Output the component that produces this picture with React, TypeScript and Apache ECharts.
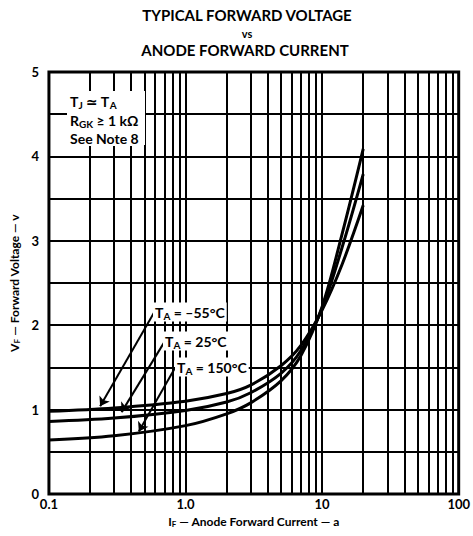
import React, { useEffect, useRef } from "react";
import * as echarts from "echarts";

// Anode forward current (A)
const currents = [0.1, 0.3, 1, 2, 3, 5, 7, 10, 14, 20];
// Forward voltage (V) per junction temperature
const vfM55 = [0.98, 1.02, 1.1, 1.19, 1.29, 1.52, 1.76, 2.18, 2.72, 3.42];
const vf25 = [0.86, 0.9, 0.99, 1.09, 1.2, 1.43, 1.7, 2.2, 2.92, 3.79];
const vf150 = [0.64, 0.69, 0.81, 0.95, 1.08, 1.34, 1.64, 2.22, 3.08, 4.09];

// vertical grid values (log decades 2..9)
const xGrid = [0.2, 0.3, 0.4, 0.5, 0.6, 0.7, 0.8, 0.9, 1, 2, 3, 4, 5, 6, 7, 8, 9, 10, 20, 30, 40, 50, 60, 70, 80, 90];
const xTickValues = [0.1, 1, 10, 100];
const xTickLabels = ["0.1", "1.0", "10", "100"];

// annotation arrows: [startI, startV, tipI, tipV]
const arrowM55 = [0.593, 2.16, 0.237, 1.04];
const arrow25 = [0.712, 1.82, 0.34, 0.97];
const arrow150 = [0.841, 1.5, 0.455, 0.74];

const FONT = "Lato, 'DejaVu Sans', sans-serif";

export default function App() {
  const ref = useRef<HTMLDivElement>(null);
  useEffect(() => {
    if (!ref.current) return;
    const chart = echarts.init(ref.current, undefined, { renderer: "svg" });
    const pairs = (ys: number[]) => currents.map((c, i) => [c, ys[i]]);
    const curve = (name: string, ys: number[]) => ({
      name,
      type: "line",
      data: pairs(ys),
      smooth: 0.35,
      showSymbol: false,
      lineStyle: { color: "#000", width: 3 },
      z: 5,
    });
    const arrow = (a: number[]) => [
      { coord: [a[0], a[1]] },
      { coord: [a[2], a[3]] },
    ];
    const richBase = {
      b: { fontSize: 14, fontWeight: "bold", fontFamily: FONT, color: "#000" },
      s: { fontSize: 10, fontWeight: "bold", fontFamily: FONT, color: "#000", padding: [7, 0, 0, 0] },
    };
    const label = (x: number, y: number, text: string) => ({
      type: "text",
      x,
      y,
      z: 20,
      style: {
        text,
        rich: richBase,
        backgroundColor: "#fff",
        padding: [1, 2, 1, 2],
        verticalAlign: "middle",
      },
    });
    const titleStyle = (text: string, size: number) => ({
      text,
      fontSize: size,
      fontWeight: "bold",
      fontFamily: FONT,
      fill: "#000",
      align: "center",
      verticalAlign: "middle",
    });
    chart.setOption({
      animation: false,
      grid: { left: 44, right: 9, top: 72, bottom: 42, show: true, borderColor: "#000", borderWidth: 3, z: 10 },
      xAxis: {
        type: "log",
        logBase: 10,
        min: 0.1,
        max: 100,
        axisLine: { show: false },
        axisTick: { show: false },
        splitLine: { show: false },
        axisLabel: {
          margin: 3,
          fontSize: 13,
          fontWeight: "bold",
          fontFamily: FONT,
          color: "#000",
          formatter: (v: number) => {
            const i = xTickValues.findIndex((t) => Math.abs(t - v) < v * 1e-6);
            return i >= 0 ? xTickLabels[i] : "";
          },
        },
        name: "{b|I}{s|F}{b| — Anode Forward Current — a}",
        nameLocation: "middle",
        nameGap: 21,
        nameTextStyle: {
          rich: {
            b: { fontSize: 12, fontWeight: "bold", fontFamily: FONT, color: "#000" },
            s: { fontSize: 8, fontWeight: "bold", fontFamily: FONT, color: "#000", padding: [5, 0, 0, 0] },
          },
        },
      },
      yAxis: {
        type: "value",
        min: 0,
        max: 5,
        interval: 0.5,
        axisLine: { show: false },
        axisTick: { show: false },
        splitLine: { show: true, lineStyle: { color: "#000", width: 2 } },
        axisLabel: {
          margin: 10,
          fontSize: 13,
          fontWeight: "bold",
          fontFamily: FONT,
          color: "#000",
          formatter: (v: number) => (Number.isInteger(v) ? String(v) : ""),
        },
        name: "{b|V}{s|F}{b| — Forward Voltage — v}",
        nameLocation: "middle",
        nameGap: 25,
        nameRotate: 90,
        nameTextStyle: {
          rich: {
            b: { fontSize: 12, fontWeight: "bold", fontFamily: FONT, color: "#000" },
            s: { fontSize: 8, fontWeight: "bold", fontFamily: FONT, color: "#000", padding: [5, 0, 0, 0] },
          },
        },
      },
      series: [
        {
          name: "grid",
          type: "line",
          data: [],
          silent: true,
          markLine: {
            silent: true,
            symbol: "none",
            label: { show: false },
            lineStyle: { color: "#000", width: 2, type: "solid" },
            data: xGrid.map((v) => ({ xAxis: v })),
          },
          z: 1,
        },
        curve("TA = -55°C", vfM55),
        curve("TA = 25°C", vf25),
        curve("TA = 150°C", vf150),
        {
          name: "arrows",
          type: "line",
          data: [],
          silent: true,
          markLine: {
            silent: true,
            symbol: ["none", "arrow"],
            symbolSize: 9,
            label: { show: false },
            lineStyle: { color: "#000", width: 2, type: "solid" },
            data: [arrow(arrowM55), arrow(arrow25), arrow(arrow150)],
          },
          z: 6,
        },
      ],
      graphic: [
        { type: "text", x: 247, y: 15, style: titleStyle("TYPICAL FORWARD VOLTAGE", 15) },
        { type: "text", x: 247, y: 33, style: titleStyle("vs", 11) },
        { type: "text", x: 245, y: 50, style: titleStyle("ANODE FORWARD CURRENT", 15) },
        { type: "rect", z: 15, shape: { x: 67, y: 91, width: 78, height: 54 }, style: { fill: "#fff" } },
        label(68, 101, "{b|T}{s|J}{b| ≃ T}{s|A}"),
        label(68, 120, "{b|R}{s|GK}{b| ≥ 1 kΩ}"),
        label(68, 138, "{b|See Note 8}"),
        label(153, 312, "{b|T}{s|A}{b| = –55°C}"),
        label(163, 341, "{b|T}{s|A}{b| = 25°C}"),
        label(175, 367, "{b|T}{s|A}{b| = 150°C}"),
      ],
    });
    return () => chart.dispose();
  }, []);
  return <div ref={ref} style={{ position: "fixed", left: 0, top: 0, width: 473, height: 536, background: "#fff" }} />;
}
